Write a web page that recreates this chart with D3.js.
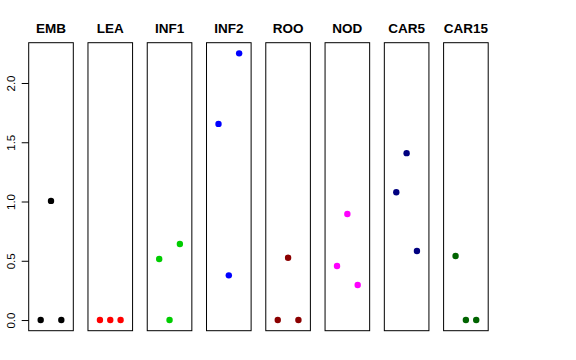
<!DOCTYPE HTML>
<HTML>
  <HEAD>
    <TITLE>Panels</TITLE>
    <script src="https://cdn.jsdelivr.net/npm/d3@7"></script>
    <style>
      body { margin: 0; background: white; }
      text { font-family: "Liberation Sans", Arial, Helvetica, sans-serif; }
    </style>
  </HEAD>
  <BODY>

  <script type="text/javascript">

    // panels and the three values in each
    var tissues = ["EMB", "LEA", "INF1", "INF2", "ROO", "NOD", "CAR5", "CAR15"];
    var colours = ["#000000", "#FF0000", "#00CD00", "#0000FF", "#8B0000", "#FF00FF", "#000080", "#006400"];
    var rep1 = [0, 0, 0.515, 1.655, 0, 0.456, 1.078, 0.54];
    var rep2 = [1.005, 0, 0, 0.377, 0.526, 0.895, 1.408, 0];
    var rep3 = [0, 0, 0.642, 2.25, 0, 0.296, 0.583, 0];
    var yTicks = [0, 0.5, 1.0, 1.5, 2.0];

    var w = 576;
    var h = 360;

    var svg = d3.select("body").append("svg")
      .attr("width", w)
      .attr("height", h);

    // (window.top is taken, hence the names)
    var plotTop = 42.7, plotBottom = 330.7;

    var panelX = d3.scaleBand()
      .domain(tissues)
      .range([28.7, 488.2])
      .paddingInner(0.2475)
      .paddingOuter(0);

    var bw = panelX.bandwidth();

    // like R: xlim c(0,4) and ylim to the data, both padded 4%
    var x = d3.scaleLinear().domain([-0.16, 4.16]).range([0, bw]);
    var ymax = d3.max(rep1.concat(rep2, rep3));
    var y = d3.scaleLinear().domain([-0.04 * ymax, 1.04 * ymax]).range([plotBottom, plotTop]);

    var panels = svg.selectAll("g.panel")
      .data(tissues)
      .enter()
      .append("g")
      .attr("class", "panel")
      .attr("transform", function(d) {
        return "translate(" + panelX(d) + ",0)";
      });

    panels.append("rect")
      .attr("x", 0)
      .attr("y", plotTop)
      .attr("width", bw)
      .attr("height", plotBottom - plotTop)
      .attr("fill", "none")
      .attr("stroke", "black")
      .attr("stroke-width", 1);

    panels.append("text")
      .text(function(d) { return d; })
      .attr("x", bw / 2)
      .attr("y", 33)
      .attr("text-anchor", "middle")
      .attr("font-size", 13.5)
      .attr("font-weight", "bold")
      .attr("fill", "black");

    panels.selectAll("circle")
      .data(function(d, i) {
        return [
          {rep: 1, value: rep1[i], col: colours[i]},
          {rep: 2, value: rep2[i], col: colours[i]},
          {rep: 3, value: rep3[i], col: colours[i]}
        ];
      })
      .enter()
      .append("circle")
      .attr("cx", function(d) { return x(d.rep); })
      .attr("cy", function(d) { return y(d.value); })
      .attr("r", 3.2)
      .attr("fill", function(d) { return d.col; });

    // y axis on the first panel only
    var axis = svg.append("g")
      .attr("transform", "translate(" + panelX(tissues[0]) + ",0)")
      .call(d3.axisLeft(y).tickValues(yTicks).tickSize(7).tickPadding(6)
        .tickFormat(d3.format(".1f")));

    axis.select(".domain").remove();
    axis.selectAll("line").attr("stroke", "black");
    axis.selectAll("text")
      .attr("font-size", 11.5)
      .attr("fill", "black")
      .attr("text-anchor", "middle")
      .attr("dy", 0)
      .attr("x", 0)
      .attr("transform", "translate(-13.5,0) rotate(-90)");

  </script>
  </BODY>
</HTML>
